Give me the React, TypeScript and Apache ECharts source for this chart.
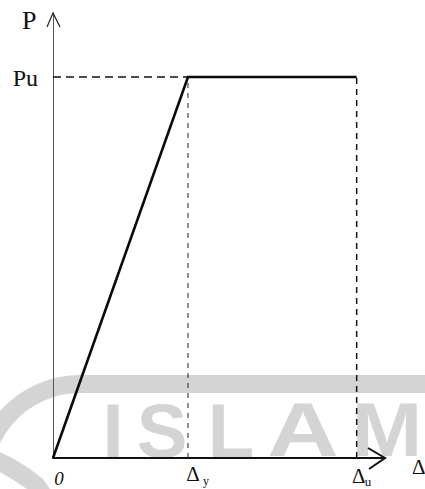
import React, { useEffect, useRef } from "react";
import * as echarts from "echarts";

// Idealised elasto-plastic load–displacement relation
const deltaY = 1; // yield displacement Δy
const deltaU = 2.25; // ultimate displacement Δu
const Pu = 1; // ultimate load
const xMax = 2.46; // end of the Δ axis (arrow tip)
const yMax = 1.168; // end of the P axis (arrow tip)

const curveX = [0, deltaY, deltaU];
const curveY = [0, Pu, Pu];

const puGuideX = [0, deltaY];
const yieldGuideY = [0, Pu];
const ultimateGuideY = [0, Pu];

const axisTitleX = "Δ";
const axisTitleY = "P";
const loadLabel = "Pu";
const originLabel = "0";

const watermarkLetters = ["I", "S", "L", "A", "M"];

const SERIF = '"Liberation Serif", "DejaVu Serif", serif';
const SANS = '"Liberation Sans", Arial, sans-serif';
const GREY = "#d4d4d4";

export default function App() {
  const ref = useRef<HTMLDivElement>(null);

  useEffect(() => {
    if (!ref.current) return;
    const chart = echarts.init(ref.current, undefined, { renderer: "svg" });

    const pairs = (xs: number[], ys: number[]) => xs.map((x, i) => [x, ys[i]]);

    chart.setOption({
      animation: false,
      backgroundColor: "#ffffff",
      grid: { left: 53, right: 40, top: 13, bottom: 31 },
      xAxis: {
        type: "value",
        min: 0,
        max: xMax,
        axisLine: { show: true, lineStyle: { color: "#111", width: 2 } },
        axisTick: { show: false },
        axisLabel: { show: false },
        splitLine: { show: false },
      },
      yAxis: {
        type: "value",
        min: 0,
        max: yMax,
        axisLine: { show: true, lineStyle: { color: "#555", width: 1 } },
        axisTick: { show: false },
        axisLabel: { show: false },
        splitLine: { show: false },
      },
      series: [
        {
          type: "line",
          name: "guide-pu",
          data: pairs(puGuideX, [Pu, Pu]),
          symbol: "none",
          lineStyle: { color: "#111", width: 1.5, type: [8, 5] },
          z: 3,
        },
        {
          type: "line",
          name: "guide-dy",
          data: pairs([deltaY, deltaY], yieldGuideY),
          symbol: "none",
          lineStyle: { color: "#222", width: 1, type: [5, 5] },
          z: 3,
        },
        {
          type: "line",
          name: "guide-du",
          data: pairs([deltaU, deltaU], ultimateGuideY),
          symbol: "none",
          lineStyle: { color: "#111", width: 1.5, type: [6, 5] },
          z: 3,
        },
        {
          type: "line",
          name: "curve",
          data: pairs(curveX, curveY),
          symbol: "none",
          lineStyle: { color: "#0a0a0a", width: 2.6, join: "miter" },
          z: 4,
        },
      ],
    });

    const px = (x: number, y: number) =>
      chart.convertToPixel({ gridIndex: 0 }, [x, y]) as number[];

    const o = px(0, 0);
    const yTip = px(0, yMax);
    const xTip = px(xMax, 0);
    const pu = px(0, Pu);
    const dy = px(deltaY, 0);
    const du = px(deltaU, 0);

    const text = (
      s: string,
      x: number,
      y: number,
      font: string,
      align: string = "center"
    ) => ({
      type: "text",
      x,
      y,
      z: 10,
      style: {
        text: s,
        font,
        fill: "#111",
        textAlign: align,
        textVerticalAlign: "middle",
      },
    });

    const letterX = [113, 162, 231, 303, 387];
    const letterScale = [1, 1, 1, 1.3, 1.12];

    chart.setOption({
      graphic: [
        // watermark
        {
          type: "arc",
          z: 0,
          shape: { cx: 80, cy: 482, r: 98, startAngle: Math.PI * 0.95, endAngle: Math.PI * 1.5 },
          style: { stroke: GREY, lineWidth: 18, fill: "none" },
        },
        {
          type: "rect",
          z: 0,
          shape: { x: 80, y: 375, width: 360, height: 18 },
          style: { fill: GREY },
        },
        {
          type: "polygon",
          z: 0,
          shape: {
            points: [
              [0, 452],
              [14, 459],
              [30, 469],
              [43, 479],
              [50, 489],
              [27, 489],
              [15, 481],
              [0, 472],
            ],
          },
          style: { fill: GREY },
        },
        ...watermarkLetters.map((l, i) => ({
          type: "text",
          x: letterX[i],
          y: 430,
          scaleX: letterScale[i],
          z: 0,
          style: {
            text: l,
            font: `bold 76px ${SANS}`,
            fill: GREY,
            textAlign: "center",
            textVerticalAlign: "middle",
          },
        })),
        // arrowheads
        {
          type: "polyline",
          z: 10,
          shape: {
            points: [
              [yTip[0] - 6, yTip[1] + 14],
              [yTip[0], yTip[1]],
              [yTip[0] + 7, yTip[1] + 14],
            ],
          },
          style: { stroke: "#222", lineWidth: 1.2, fill: "none" },
        },
        {
          type: "polyline",
          z: 10,
          shape: {
            points: [
              [xTip[0] - 17, xTip[1] - 10],
              [xTip[0], xTip[1]],
              [xTip[0] - 16, xTip[1] + 11],
            ],
          },
          style: { stroke: "#111", lineWidth: 2, fill: "none" },
        },
        // axis titles and marks
        text(axisTitleY, yTip[0] - 31, yTip[1] + 7, `26px ${SERIF}`, "left"),
        text(loadLabel, pu[0] - 15, pu[1] + 1, `24px ${SERIF}`, "right"),
        text(originLabel, o[0] + 6, o[1] + 20, `italic 19px ${SERIF}`),
        text("Δ", dy[0] + 5, dy[1] + 16, `21px ${SERIF}`),
        text("y", dy[0] + 15, dy[1] + 23, `12px ${SERIF}`, "left"),
        text("Δ", du[0] + 2, du[1] + 18, `21px ${SERIF}`),
        text("u", du[0] + 8, du[1] + 23, `13px ${SERIF}`, "left"),
        text(axisTitleX, xTip[0] + 27, xTip[1] + 9, `21px ${SERIF}`, "left"),
      ],
    });

    return () => chart.dispose();
  }, []);

  return (
    <div
      ref={ref}
      style={{ position: "absolute", left: 0, top: 0, width: 425, height: 489 }}
    />
  );
}
